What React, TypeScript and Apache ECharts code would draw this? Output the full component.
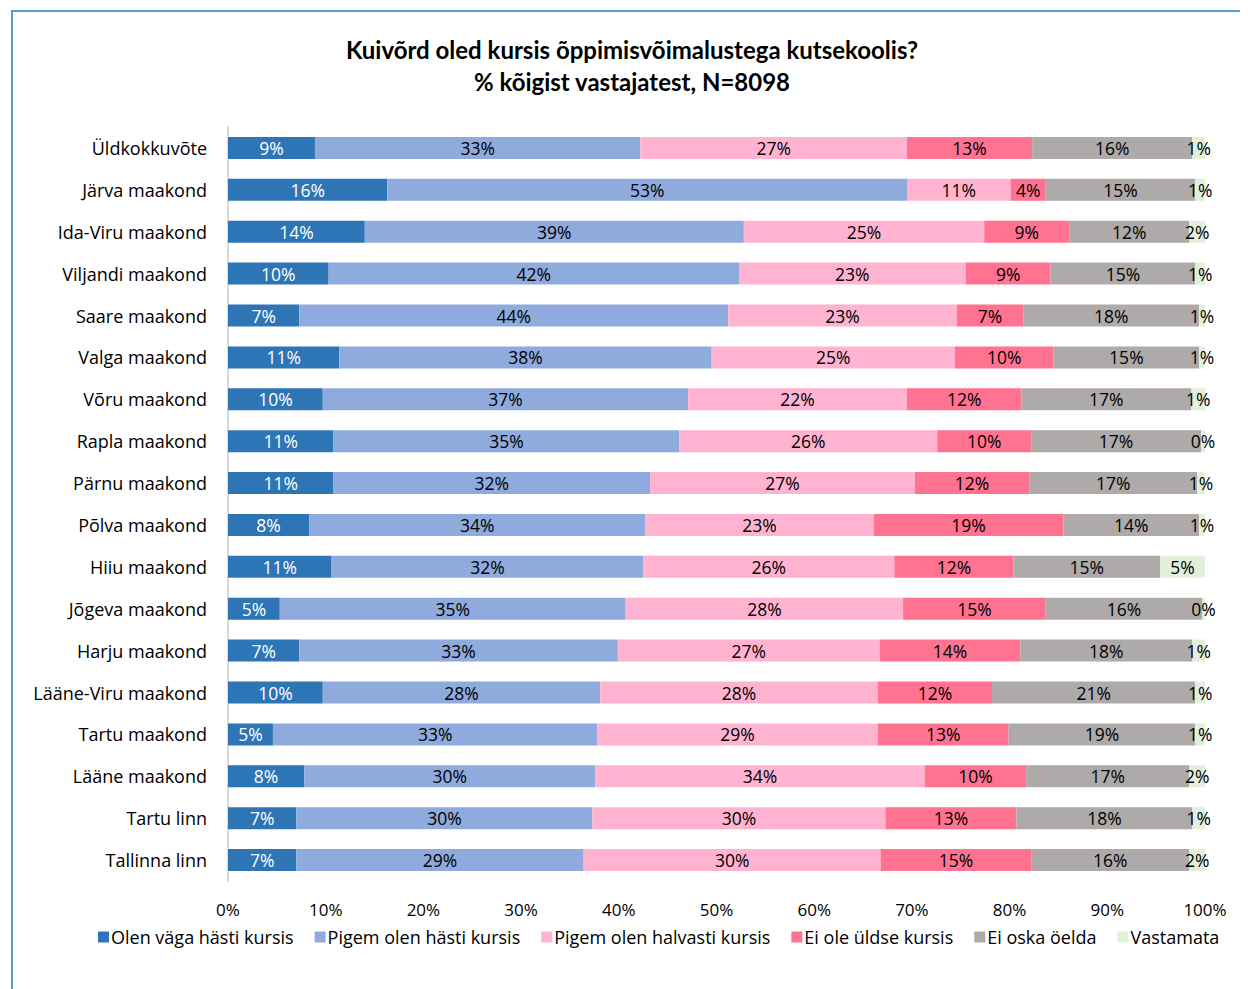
import React, { useEffect, useRef } from "react";
import * as echarts from "echarts";

const categories = [
  "Üldkokkuvõte",
  "Järva maakond",
  "Ida-Viru maakond",
  "Viljandi maakond",
  "Saare maakond",
  "Valga maakond",
  "Võru maakond",
  "Rapla maakond",
  "Pärnu maakond",
  "Põlva maakond",
  "Hiiu maakond",
  "Jõgeva maakond",
  "Harju maakond",
  "Lääne-Viru maakond",
  "Tartu maakond",
  "Lääne maakond",
  "Tartu linn",
  "Tallinna linn",
];

const seriesNames = [
  "Olen väga hästi kursis",
  "Pigem olen hästi kursis",
  "Pigem olen halvasti kursis",
  "Ei ole üldse kursis",
  "Ei oska öelda",
  "Vastamata",
];

const vagaHasti = [8.9, 16.3, 14.0, 10.3, 7.3, 11.4, 9.7, 10.8, 10.8, 8.3, 10.6, 5.3, 7.3, 9.7, 4.6, 7.8, 7.0, 7.0];
const pigemHasti = [33.3, 53.2, 38.8, 42.0, 43.9, 38.1, 37.4, 35.4, 32.4, 34.4, 31.9, 35.4, 32.6, 28.4, 33.2, 29.8, 30.3, 29.4];
const pigemHalvasti = [27.3, 10.6, 24.6, 23.2, 23.4, 24.9, 22.4, 26.4, 27.1, 23.4, 25.7, 28.4, 26.8, 28.4, 28.7, 33.7, 30.0, 30.4];
const eiOle = [12.8, 3.6, 8.7, 8.7, 6.8, 10.1, 11.7, 9.6, 11.7, 19.4, 12.2, 14.6, 14.4, 11.7, 13.4, 10.4, 13.4, 15.4];
const eiOska = [16.4, 15.3, 12.3, 14.8, 18.0, 14.9, 17.4, 17.4, 17.2, 13.9, 15.0, 16.0, 17.6, 20.8, 19.1, 16.7, 18.0, 16.2];
const vastamata = [1.3, 1.0, 1.6, 1.0, 0.6, 0.6, 1.4, 0.4, 0.8, 0.6, 4.6, 0.3, 1.3, 1.0, 1.0, 1.6, 1.3, 1.6];

const xTicks = [0, 10, 20, 30, 40, 50, 60, 70, 80, 90, 100];

const colors = ["#2E75B6", "#8FAADC", "#FFB3D1", "#FF7290", "#AEAAAA", "#E2F0D9"];
const labelColors = ["#FFFFFF", "#000000", "#000000", "#000000", "#000000", "#000000"];

const FONT = "'Open Sans', sans-serif";
const TITLE_FONT = "Lato, sans-serif";

export default function App() {
  const ref = useRef<HTMLDivElement>(null);

  useEffect(() => {
    if (!ref.current) return;
    const chart = echarts.init(ref.current, undefined, { renderer: "svg" });
    const allData = [vagaHasti, pigemHasti, pigemHalvasti, eiOle, eiOska, vastamata];
    const option: any = {
      animation: false,
      backgroundColor: "#FFFFFF",
      textStyle: { fontFamily: FONT },
      title: {
        text: "Kuivõrd oled kursis õppimisvõimalustega kutsekoolis?\n% kõigist vastajatest, N=8098",
        left: 614,
        top: 16,
        textAlign: "center",
        textStyle: {
          fontFamily: TITLE_FONT,
          fontSize: 24,
          fontWeight: "bold",
          color: "#000000",
          lineHeight: 32,
        },
      },
      legend: {
        bottom: 38,
        left: 80,
        icon: "rect",
        itemWidth: 11,
        itemHeight: 11,
        itemGap: 21,
        textStyle: { fontFamily: FONT, fontSize: 18, color: "#000000", padding: [0, 0, 0, -3] },
        data: seriesNames,
      },
      grid: {
        left: 215,
        top: 115,
        width: 977,
        height: 754,
        containLabel: false,
      },
      xAxis: {
        type: "value",
        min: 0,
        max: 100,
        interval: 10,
        axisLine: { show: false },
        axisTick: { show: false },
        splitLine: { show: false },
        axisLabel: {
          formatter: (v: number) => (xTicks.includes(v) ? v + "%" : ""),
          fontFamily: FONT,
          fontSize: 17,
          color: "#000000",
          margin: 20,
        },
      },
      yAxis: {
        type: "category",
        inverse: true,
        data: categories,
        axisLine: { show: true, lineStyle: { color: "#D9D9D9", width: 2 } },
        axisTick: { show: false },
        axisLabel: {
          fontFamily: FONT,
          fontSize: 18,
          color: "#000000",
          margin: 21,
        },
      },
      series: allData.map((d, i) => ({
        name: seriesNames[i],
        type: "bar",
        stack: "total",
        data: d,
        barWidth: 22,
        itemStyle: { color: colors[i] },
        label: {
          show: true,
          position: "inside",
          formatter: (p: any) => Math.round(p.value) + "%",
          fontFamily: FONT,
          fontSize: 17.5,
          color: labelColors[i],
          offset: [0, 3],
        },
        labelLayout: { hideOverlap: false },
      })),
    };
    chart.setOption(option);
    return () => chart.dispose();
  }, []);

  return (
    <div style={{ paddingLeft: 3, paddingTop: 2 }}>
      <div
        style={{
          borderLeft: "2px solid #5B9BD5",
          borderTop: "2px solid #5B9BD5",
          width: 1235,
          height: 977,
        }}
      >
        <div ref={ref} style={{ width: 1235, height: 977 }} />
      </div>
    </div>
  );
}
